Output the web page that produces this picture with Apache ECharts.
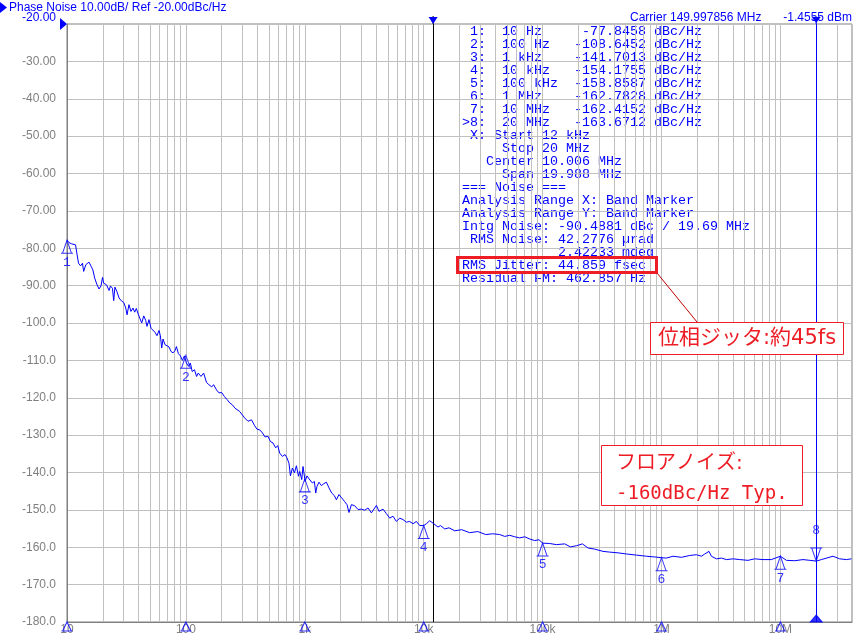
<!DOCTYPE html>
<html><head><meta charset="utf-8">
<script src="https://cdn.jsdelivr.net/npm/echarts@6/dist/echarts.min.js"></script>
<style>html,body{margin:0;padding:0;background:#fff}#c{width:860px;height:636px}</style>
</head><body><div id="c"></div>
<script>
// ---- data ----
const tracePoints = [
 [10,-77.8],[10.4,-78.5],[10.9,-78.8],[11.2,-78.5],[11.8,-79.1],[12.1,-81.3],[12.5,-84.0],[13.0,-84.7],[13.5,-84.0],[13.8,-86.2],
 [14.4,-84.4],[15.3,-83.7],[16.0,-84.9],[16.5,-85.8],[17.1,-88.0],[17.9,-89.8],[18.6,-90.9],[19.3,-90.1],[19.9,-87.8],[20.3,-89.3],
 [21.5,-89.8],[22.6,-91.3],[23.2,-90.1],[24.1,-90.7],[24.7,-94.0],[25.3,-90.4],[26.3,-91.6],[27.4,-93.3],[28.7,-94.1],[30.0,-94.5],
 [31.2,-96.0],[32.0,-97.8],[33.2,-95.1],[34.5,-96.9],[35.9,-96.0],[37.1,-97.1],[38.3,-96.1],[39.9,-97.8],[41.4,-98.3],[42.5,-100.0],
 [44.2,-98.1],[45.9,-99.3],[47.1,-100.9],[48.9,-99.1],[50.9,-101.4],[52.9,-101.8],[55.0,-102.5],[57.1,-103.4],[59.4,-102.0],[61.0,-103.4],
 [62.6,-106.7],[64.2,-104.3],[66.7,-105.8],[69.3,-105.4],[72.1,-106.4],[74.9,-107.6],[77.9,-108.0],[81.0,-107.4],[83.2,-106.3],[86.5,-108.2],
 [89.9,-108.8],[93.5,-110.0],[97.1,-108.8],[100,-108.6],[101,-110.7],[105,-111.6],[109,-110.7],[113,-113.0],[118,-112.5],[123,-114.3],
 [127,-113.4],[134,-114.3],[141,-113.4],[149,-115.9],[156,-116.5],[165,-117.1],[171,-116.5],[181,-117.9],[190,-118.7],[200,-118.6],
 [211,-119.7],[222,-120.5],[234,-121.4],[246,-121.9],[259,-122.8],[284,-123.7],[312,-125.4],[333,-126.3],[356,-125.9],[379,-127.5],
 [396,-128.4],[418,-128.6],[440,-129.4],[463,-130.5],[490,-130.3],[514,-131.7],[540,-132.1],[569,-133.4],[592,-132.8],[615,-134.8],
 [648,-135.7],[682,-135.2],[708,-136.1],[736,-137.5],[757,-140.9],[787,-138.8],[818,-140.1],[850,-138.2],[884,-141.0],[906,-139.7],
 [942,-141.9],[966,-138.4],[1000,-141.7],[1004,-142.4],[1043,-140.9],[1085,-141.7],[1158,-142.8],[1204,-142.4],[1235,-145.5],[1266,-143.7],
 [1316,-142.6],[1379,-143.5],[1442,-143.0],[1519,-142.6],[1597,-144.1],[1684,-145.5],[1774,-146.2],[1844,-147.3],[1939,-145.9],[2043,-146.8],
 [2153,-147.7],[2264,-148.6],[2353,-150.7],[2466,-148.6],[2629,-148.9],[2803,-149.9],[2992,-149.8],[3189,-150.1],[3400,-149.5],[3631,-150.8],
 [3871,-149.5],[4000,-148.8],[4208,-150.4],[4547,-149.8],[4857,-151.0],[5178,-152.2],[5518,-151.7],[5894,-153.1],[6284,-152.2],[6697,-152.6],
 [7153,-153.3],[7624,-153.1],[8128,-153.7],[8682,-153.1],[9254,-154.2],[10000,-154.2],[10540,-153.7],[11230,-152.9],[12140,-153.7],[13190,-154.6],
 [13820,-154.2],[15020,-155.1],[16320,-154.8],[18230,-155.6],[20870,-155.3],[24370,-156.1],[28460,-155.8],[33220,-156.6],[38050,-156.4],[43580,-156.6],
 [48000,-157.1],[52890,-156.8],[58270,-157.2],[64190,-157.5],[70700,-157.2],[77900,-157.8],[85800,-158.2],[93300,-158.0],[100000,-158.9],[114700,-159.0],
 [130600,-159.3],[153400,-159.1],[171300,-159.9],[192400,-159.6],[216100,-159.1],[240900,-160.2],[274300,-160.5],[322100,-161.1],[366600,-161.3],[430600,-161.5],
 [506600,-161.8],[615000,-162.1],[746500,-162.4],[876500,-162.6],[1000000,-162.8],[1100000,-162.9],[1250000,-162.4],[1470000,-162.7],[1727000,-162.2],[1966000,-162.0],
 [2166000,-162.4],[2309000,-161.8],[2510000,-161.1],[2628000,-162.4],[2895000,-163.1],[3190000,-162.9],[3514000,-163.3],[3994000,-163.1],[4546000,-163.3],[5340000,-163.5],
 [6078000,-163.1],[7137000,-163.3],[8395000,-163.3],[10000000,-162.4],[11230000,-163.5],[13190000,-163.6],[15490000,-163.3],[17640000,-163.5],[20000000,-163.7],[22120000,-163.3],
 [27700000,-162.4],[31500000,-163.1],[35900000,-163.3],[39550000,-163.1]
];
const markerNames  = ['1','2','3','4','5','6','7','8'];
const markerFreqs  = [10, 100, 1e3, 1e4, 1e5, 1e6, 1e7, 2e7];
const markerValues = [-77.8458, -108.6452, -141.7013, -154.1755, -158.8587, -162.7828, -162.4152, -163.6712];
const activeMarker = '8';
const xTickValues = [10, 100, 1e3, 1e4, 1e5, 1e6, 1e7];
const xTickLabels = ['10', '100', '1k', '10k', '100k', '1M', '10M'];
const xMin = 10, xMax = 4e7;
const yMin = -180, yMax = -20, yStep = 10;
const minorMultipliers = [2, 3, 4, 5, 6, 7, 8, 9];
const bandStart = 12000, bandStop = 2e7;
const tableLines = [
 ' 1:  10 Hz     -77.8458 dBc/Hz',
 ' 2:  100 Hz   -108.6452 dBc/Hz',
 ' 3:  1 kHz    -141.7013 dBc/Hz',
 ' 4:  10 kHz   -154.1755 dBc/Hz',
 ' 5:  100 kHz  -158.8587 dBc/Hz',
 ' 6:  1 MHz    -162.7828 dBc/Hz',
 ' 7:  10 MHz   -162.4152 dBc/Hz',
 '>8:  20 MHz   -163.6712 dBc/Hz',
 ' X: Start 12 kHz',
 '     Stop 20 MHz',
 '   Center 10.006 MHz',
 '     Span 19.988 MHz',
 '=== Noise ===',
 'Analysis Range X: Band Marker',
 'Analysis Range Y: Band Marker',
 'Intg Noise: -90.4881 dBc / 19.69 MHz',
 ' RMS Noise: 42.2776 \u00b5rad',
 '            2.42233 mdeg',
 'RMS Jitter: 44.859 fsec',
 'Residual FM: 462.857 Hz'
];
const headerText = 'Phase Noise 10.00dB/ Ref -20.00dBc/Hz';
const carrierText = 'Carrier 149.997856 MHz';
const powerText = '-1.4555 dBm';
const note1 = '位相ジッタ:約45fs';
const note2a = 'フロアノイズ:';
const note2b = '-160dBc/Hz Typ.';

// ---- chart ----
const BLUE = '#0000ff', RED = '#ee1c25', GRIDC = '#c0c0c0', AXISC = '#808080';
const SANS = '"Liberation Sans", Arial, sans-serif';
const NOTEFONT = '"DejaVu Sans", "Noto Sans CJK JP", sans-serif';
const NOTEMONO = '"DejaVu Sans Mono", "Noto Sans CJK JP", monospace';
const chart = echarts.init(document.getElementById('c'));

const minorLines = [];
xTickValues.forEach(d => minorMultipliers.forEach(m => { const v = d * m; if (v < xMax) minorLines.push({xAxis: v}); }));

const upTri = 'path://M6,0 L10.5,13 L1.5,13 Z M0,13 L12,13';
const downTri = 'path://M1.5,0 L10.5,0 L6,13 Z M0,0 L12,0';
const markerData = markerNames.map((n, i) => {
  const active = n === activeMarker;
  return {
    value: [markerFreqs[i], markerValues[i]], name: n,
    symbol: active ? downTri : upTri,
    symbolOffset: active ? [0, -6.5] : [0, 6.5],
    label: {position: active ? 'top' : 'bottom', distance: active ? 10 : 2}
  };
});
const axisMarkData = markerNames.map((n, i) => {
  const active = n === activeMarker;
  return {
    value: [markerFreqs[i], yMin],
    symbol: active ? 'path://M5,0 L10,8 L0,8 Z' : 'path://M5,0 L9,8 L1,8 Z M0,8 L10,8',
    symbolSize: active ? [12, 7] : [11, 9],
    symbolOffset: active ? [0, -3.5] : [0, 4.5],
    itemStyle: active ? {color: BLUE, borderColor: BLUE} : {color: 'rgba(0,0,0,0)', borderColor: BLUE, borderWidth: 1}
  };
});

const tableGraphics = tableLines.map((t, i) => ({
  type: 'text', x: 462, y: 31.7 + 13 * i, silent: true,
  style: {text: t, fill: BLUE, fontSize: 13.33, fontFamily: '"Liberation Mono", monospace', verticalAlign: 'middle', align: 'left'}
}));

const option = {
  animation: false,
  backgroundColor: '#fff',
  grid: {left: 67, right: 8, top: 24, bottom: 13, show: true, borderColor: AXISC, borderWidth: 1, containLabel: false},
  xAxis: {
    type: 'log', logBase: 10, min: xMin, max: xMax,
    axisLine: {show: true, lineStyle: {color: AXISC}}, axisTick: {show: false},
    axisLabel: {
      margin: 2, color: AXISC, fontSize: 12, fontFamily: SANS,
      showMaxLabel: false, showMinLabel: true,
      formatter: v => { const i = xTickValues.findIndex(t => Math.abs(Math.log10(t) - Math.log10(v)) < 1e-6); return i >= 0 ? xTickLabels[i] : ''; }
    },
    splitLine: {show: true, lineStyle: {color: GRIDC, width: 1}}
  },
  yAxis: {
    type: 'value', min: yMin, max: yMax, interval: yStep,
    axisLine: {show: true, lineStyle: {color: AXISC}}, axisTick: {show: false},
    axisLabel: {margin: 11, color: AXISC, fontSize: 12, fontFamily: SANS,
      formatter: v => v === yMax ? '' : v.toPrecision(4)},
    splitLine: {show: true, lineStyle: {color: GRIDC, width: 1}}
  },
  series: [
    {
      type: 'line', data: [], silent: true, z: 1,
      markLine: {silent: true, symbol: ['none', 'none'], label: {show: false}, animation: false,
        lineStyle: {color: GRIDC, width: 1, type: 'solid'}, data: minorLines}
    },
    {
      type: 'line', data: [], silent: true, z: 6,
      markLine: {silent: true, symbol: ['none', 'none'], label: {show: false}, animation: false,
        data: [
          {xAxis: bandStart, lineStyle: {color: '#000', width: 1, type: 'solid'}},
          {xAxis: bandStop, lineStyle: {color: BLUE, width: 1, type: 'solid'}}
        ]},
      markPoint: {silent: true, label: {show: false}, animation: false,
        data: [
          {coord: [bandStart, yMax], symbol: 'rect', symbolSize: [1, 8], symbolOffset: [0, -4], itemStyle: {color: '#000'}},
          {coord: [bandStart, yMax], symbol: 'path://M0,0 L10,0 L5,8 Z', symbolSize: [9, 7], symbolOffset: [0, -3.5], itemStyle: {color: BLUE}},
          {coord: [bandStop, yMax], symbol: 'rect', symbolSize: [1, 7], symbolOffset: [0, -3.5], itemStyle: {color: BLUE}},
          {coord: [bandStop, yMax], symbol: 'path://M0,0 L10,0 L5,8 Z', symbolSize: [9, 6], symbolOffset: [0, -4], itemStyle: {color: BLUE}}
        ]}
    },
    {
      type: 'line', data: tracePoints, showSymbol: false, symbol: 'none', z: 5, silent: true,
      lineStyle: {color: BLUE, width: 1}, itemStyle: {color: BLUE}
    },
    {
      type: 'scatter', data: markerData, z: 7, clip: false, silent: true,
      symbolSize: [12, 13],
      itemStyle: {color: 'rgba(0,0,0,0)', borderColor: BLUE, borderWidth: 1},
      label: {show: true, formatter: p => p.name, color: BLUE, fontSize: 13, fontFamily: '"Liberation Mono", monospace'}
    },
    {
      type: 'scatter', data: axisMarkData, z: 7, clip: false, silent: true
    }
  ],
  graphic: [
    {type: 'polygon', silent: true, shape: {points: [[0, 2], [7, 7.5], [0, 13]]}, style: {fill: BLUE}},
    {type: 'text', x: 9, y: 8, silent: true, style: {text: headerText, fill: BLUE, fontSize: 12, fontFamily: SANS, verticalAlign: 'middle'}},
    {type: 'text', x: 56, y: 17.5, silent: true, style: {text: (yMax).toPrecision(4), fill: BLUE, fontSize: 12, fontFamily: SANS, verticalAlign: 'middle', align: 'right'}},
    {type: 'polygon', silent: true, shape: {points: [[60, 18], [67, 24], [60, 30]]}, style: {fill: BLUE}},
    {type: 'text', x: 630, y: 18, silent: true, style: {text: carrierText, fill: BLUE, fontSize: 12, fontFamily: SANS, verticalAlign: 'middle'}},
    {type: 'text', x: 852, y: 18, silent: true, style: {text: powerText, fill: BLUE, fontSize: 12, fontFamily: SANS, verticalAlign: 'middle', align: 'right'}},
    ...tableGraphics,
    {type: 'rect', silent: true, shape: {x: 457.5, y: 257.5, width: 199, height: 15}, style: {fill: 'none', stroke: RED, lineWidth: 3}, z: 20},
    {type: 'line', silent: true, shape: {x1: 657, y1: 273, x2: 697, y2: 322}, style: {stroke: '#c00000', lineWidth: 1}, z: 20},
    {type: 'rect', silent: true, shape: {x: 650.5, y: 322.5, width: 193, height: 32}, style: {fill: '#fff', stroke: RED, lineWidth: 1}, z: 20},
    {type: 'text', x: 658, y: 339, silent: true, z: 21, style: {text: note1, fill: RED, fontSize: 21, fontFamily: NOTEFONT, verticalAlign: 'middle'}},
    {type: 'rect', silent: true, shape: {x: 601.5, y: 445.5, width: 201, height: 60}, style: {fill: '#fff', stroke: RED, lineWidth: 1}, z: 20},
    {type: 'text', x: 616, y: 464, silent: true, z: 21, style: {text: note2a, fill: RED, fontSize: 20, fontFamily: NOTEFONT, verticalAlign: 'middle'}},
    {type: 'text', x: 616, y: 494, silent: true, z: 21, style: {text: note2b, fill: RED, fontSize: 19, fontFamily: NOTEMONO, verticalAlign: 'middle'}}
  ]
};
chart.setOption(option);
</script>
</body></html>
